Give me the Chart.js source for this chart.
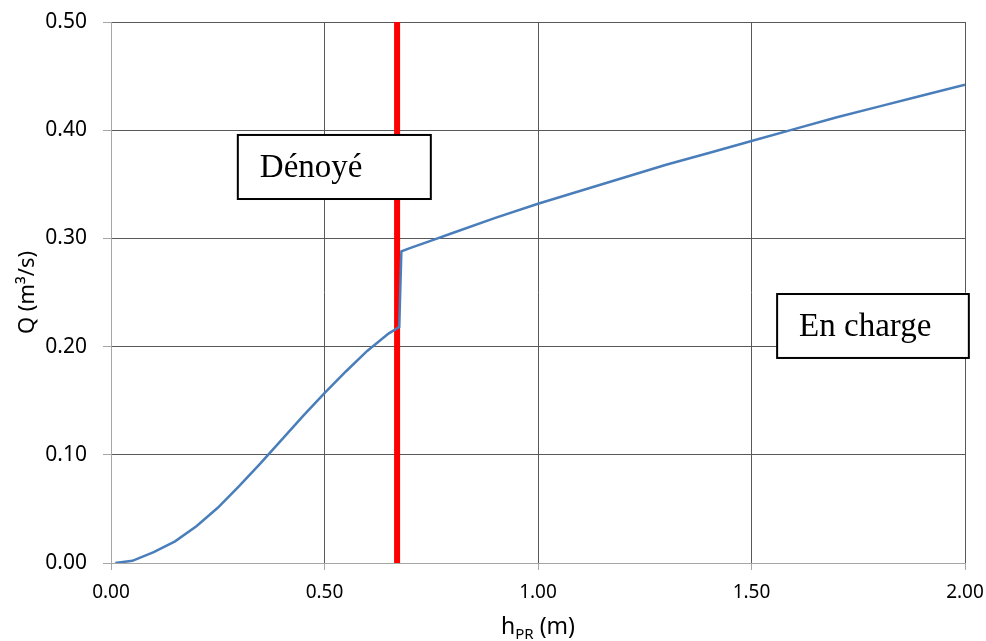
<!DOCTYPE html>
<html>
<head>
<meta charset="utf-8">
<script src="https://cdn.jsdelivr.net/npm/chart.js@4.4.1/dist/chart.umd.min.js"></script>
<style>
  html, body { margin: 0; padding: 0; background: #fff; }
  #wrap { width: 986px; height: 641px; position: relative; }
</style>
</head>
<body>
<div id="wrap"><canvas id="chart"></canvas></div>
<script>
// ================== DATA ==================
const hValues = [0.01, 0.05, 0.10, 0.15, 0.20, 0.25, 0.30, 0.35, 0.40, 0.45, 0.50, 0.55, 0.60, 0.65, 0.675,
  0.68, 0.70, 0.75, 0.80, 0.90, 1.00, 1.10, 1.20, 1.30, 1.40, 1.50, 1.60, 1.70, 1.80, 1.90, 2.00];
const qValues = [0.000, 0.002, 0.010, 0.020, 0.034, 0.051, 0.071, 0.092, 0.114, 0.136, 0.157, 0.177, 0.196, 0.212, 0.218,
  0.288, 0.291, 0.298, 0.305, 0.319, 0.332, 0.344, 0.356, 0.368, 0.379, 0.390, 0.401, 0.412, 0.422, 0.432, 0.442];

// transition (red vertical line)
const limitH = 0.67;
const limitQ = [0, 0.5];

// axis ticks
const xTicks = [0, 0.5, 1.0, 1.5, 2.0];
const yTicks = [0, 0.1, 0.2, 0.3, 0.4, 0.5];

// text boxes, in data units: [hLeft, hRight] / [qTop, qBottom]
const boxLabels = ["Dénoyé", "En charge"];
const boxH = [[0.297, 0.749], [1.560, 2.009]];
const boxQ = [[0.3956, 0.3364], [0.2486, 0.1895]];

// ================== PLUGIN ==================
const overlayPlugin = {
  id: "overlay",
  afterDatasetsDraw(chart) {
    const { ctx, scales } = chart;
    const x = scales.x, y = scales.y;
    ctx.save();
    boxLabels.forEach((label, i) => {
      const l = x.getPixelForValue(boxH[i][0]);
      const r = x.getPixelForValue(boxH[i][1]);
      const t = y.getPixelForValue(boxQ[i][0]);
      const b = y.getPixelForValue(boxQ[i][1]);
      ctx.fillStyle = "#fff";
      ctx.fillRect(l, t, r - l, b - t);
      ctx.lineWidth = 2;
      ctx.strokeStyle = "#000";
      ctx.strokeRect(l, t, r - l, b - t);
      ctx.fillStyle = "#000";
      ctx.font = "33px 'Liberation Serif', serif";
      ctx.textAlign = "left";
      ctx.textBaseline = "middle";
      ctx.fillText(label, l + 22, (t + b) / 2 + 1);
    });
    ctx.restore();
  },
  afterDraw(chart) {
    const { ctx, chartArea } = chart;
    ctx.save();
    ctx.fillStyle = "#000";
    // x title: h_PR (m)
    const big = "23px 'Noto Sans', sans-serif";
    const small = "15px 'Noto Sans', sans-serif";
    ctx.font = big;
    const wH = ctx.measureText("h").width;
    const wM = ctx.measureText(" (m)").width;
    ctx.font = small;
    const wS = ctx.measureText("PR").width;
    let cx = (chartArea.left + chartArea.right) / 2 - (wH + wS + wM) / 2;
    const base = 634;
    ctx.textBaseline = "alphabetic";
    ctx.textAlign = "left";
    ctx.font = big;
    ctx.fillText("h", cx, base);
    cx += wH;
    ctx.font = small;
    ctx.fillText("PR", cx, base + 5);
    cx += wS;
    ctx.font = big;
    ctx.fillText(" (m)", cx, base);
    // y title
    ctx.translate(28, (chartArea.top + chartArea.bottom) / 2);
    ctx.rotate(-Math.PI / 2);
    ctx.textAlign = "center";
    ctx.textBaseline = "middle";
    ctx.font = "22px 'Noto Sans', sans-serif";
    ctx.fillText("Q (m³/s)", 0, 0);
    ctx.restore();
  }
};

// ================== CHART ==================
const curve = hValues.map((h, i) => ({ x: h, y: qValues[i] }));
const limitLine = limitQ.map((q) => ({ x: limitH, y: q }));

new Chart(document.getElementById("chart"), {
  type: "scatter",
  data: {
    datasets: [
      {
        label: "Q",
        data: curve,
        showLine: true,
        borderColor: "#4a7ebb",
        borderWidth: 2.5,
        pointRadius: 0,
        tension: 0,
      },
      {
        label: "limite",
        data: limitLine,
        showLine: true,
        borderColor: "#ff0000",
        borderWidth: 6,
        pointRadius: 0,
      },
    ],
  },
  options: {
    responsive: true,
    maintainAspectRatio: false,
    animation: false,
    layout: { padding: { left: 0, top: 22, right: 21, bottom: 0 } },
    plugins: { legend: { display: false }, tooltip: { enabled: false } },
    scales: {
      x: {
        type: "linear",
        min: 0,
        max: 2,
        afterBuildTicks: (s) => { s.ticks = xTicks.map((v) => ({ value: v })); },
        afterFit: (s) => {
          s.height = 78;
          s.paddingLeft = 0;
          s.paddingRight = 0;
        },
        ticks: {
          color: "#000",
          padding: 11,
          font: { family: "'Noto Sans', sans-serif", size: 19 },
          callback: (v) => Number(v).toFixed(2),
          maxRotation: 0,
        },
        grid: { color: "#595959", tickColor: "#a6a6a6", tickLength: 7, lineWidth: 1 },
        border: { color: "#a6a6a6" },
      },
      y: {
        type: "linear",
        min: 0,
        max: 0.5,
        afterBuildTicks: (s) => { s.ticks = yTicks.map((v) => ({ value: v })); },
        afterFit: (s) => {
          s.width = 111;
          s.paddingTop = 0;
          s.paddingBottom = 0;
        },
        ticks: {
          color: "#000",
          padding: 16,
          font: { family: "'Noto Sans', sans-serif", size: 21 },
          callback: (v) => Number(v).toFixed(2),
        },
        grid: { color: "#595959", tickColor: "#a6a6a6", tickLength: 8, lineWidth: 1 },
        border: { color: "#a6a6a6" },
      },
    },
  },
  plugins: [overlayPlugin],
});
</script>
</body>
</html>
